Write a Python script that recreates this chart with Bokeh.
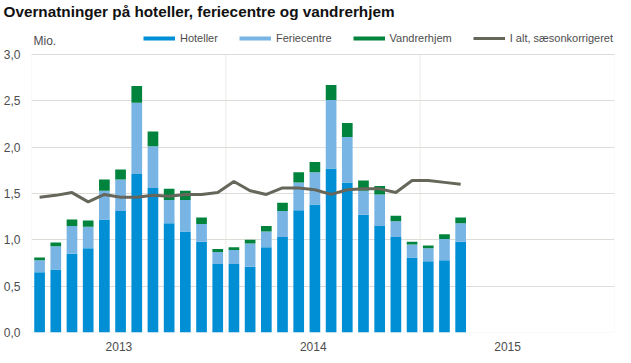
from bokeh.plotting import figure
from bokeh.models import (ColumnDataSource, Legend, LegendItem, Label, FixedTicker,
                          CustomJSTickFormatter, Range1d, BoxAnnotation)
from bokeh.embed import file_html
from bokeh.resources import INLINE

# Months: Jan 2013 .. Mar 2015 (index 0 = Jan 2013)
month_index = list(range(27))
hoteller = [0.65, 0.68, 0.85, 0.91, 1.22, 1.31, 1.71, 1.56, 1.18, 1.09, 0.98, 0.74,
            0.74, 0.71, 0.92, 1.03, 1.32, 1.38, 1.77, 1.62, 1.27, 1.15, 1.03, 0.81,
            0.77, 0.78, 0.98]
feriecentre = [0.13, 0.25, 0.30, 0.23, 0.31, 0.34, 0.77, 0.45, 0.25, 0.34, 0.19, 0.13,
               0.15, 0.25, 0.17, 0.28, 0.30, 0.35, 0.74, 0.49, 0.26, 0.34, 0.17, 0.14,
               0.14, 0.23, 0.20]
vandrerhjem = [0.03, 0.04, 0.07, 0.07, 0.12, 0.11, 0.18, 0.16, 0.12, 0.10, 0.07, 0.03,
               0.03, 0.04, 0.06, 0.09, 0.11, 0.11, 0.16, 0.15, 0.11, 0.09, 0.06, 0.03,
               0.03, 0.05, 0.06]
i_alt_saesonkorrigeret = [1.46, 1.48, 1.51, 1.41, 1.49, 1.46, 1.46, 1.48, 1.47, 1.49, 1.49, 1.51,
                          1.63, 1.53, 1.49, 1.56, 1.56, 1.54, 1.49, 1.54, 1.55, 1.55, 1.51, 1.64,
                          1.64, 1.62, 1.60]
year_labels = ["2013", "2014", "2015"]
year_tick_pos = [4.9, 16.9, 28.9]
year_edges = [-0.5, 11.5, 23.5, 35.5]
y_ticks = [0.0, 0.5, 1.0, 1.5, 2.0, 2.5, 3.0]
y_top = 3.0

series_names = ["Hoteller", "Feriecentre", "Vandrerhjem"]
series_colors = ["#008fd5", "#78b5e5", "#00843d"]
line_color = "#66665b"
text_color = "#4d4d4d"
grid_color = "#dedcd6"
FONT = "Liberation Sans"

src = ColumnDataSource(dict(x=month_index, hoteller=hoteller, feriecentre=feriecentre,
                            vandrerhjem=vandrerhjem, total=i_alt_saesonkorrigeret))

p = figure(width=623, height=355, output_backend="svg", toolbar_location=None,
           x_range=Range1d(year_edges[0], year_edges[-1]), y_range=Range1d(0, 3.367),
           min_border_left=31, min_border_top=20, min_border_right=9, min_border_bottom=23)

p.title.text = "Overnatninger på hoteller, feriecentre og vandrerhjem"
p.title.align = "left"
p.title.offset = -28
p.title.standoff = 1
p.title.text_font = FONT
p.title.text_font_size = "15.3px"
p.title.text_font_style = "bold"
p.title.text_color = "#111111"

# year boxes (plot frame with year dividers)
for a, b in zip(year_edges[:-1], year_edges[1:]):
    p.add_layout(BoxAnnotation(left=a, right=b, bottom=0, top=y_top, fill_alpha=0,
                               line_color=grid_color, line_width=1, level="underlay"))

p.vbar_stack(["hoteller", "feriecentre", "vandrerhjem"], x="x", width=0.66,
             color=series_colors, line_color=None, source=src)
total_r = p.line("x", "total", source=src, line_color=line_color, line_width=3)

# legend swatches (renderers without visible data)
nan = float("nan")
dummies = [p.line(x=[0], y=[nan], line_color=c, line_width=4) for c in series_colors]

items = [LegendItem(label=n, renderers=[r]) for n, r in zip(series_names, dummies)]
items.append(LegendItem(label="I alt, sæsonkorrigeret", renderers=[total_r]))
legend = Legend(items=items, orientation="horizontal", location=(112, 286),
                glyph_width=32, glyph_height=16, label_height=16, label_width=10,
                label_standoff=5, spacing=21, padding=0, margin=0,
                border_line_color=None, background_fill_alpha=0,
                label_text_font=FONT, label_text_font_size="11px",
                label_text_color=text_color)
p.add_layout(legend, "center")

p.add_layout(Label(x=2, y=292, x_units="screen", y_units="screen", text="Mio.",
                   text_font=FONT, text_font_size="12px", text_color=text_color,
                   text_baseline="middle"))

# axes
p.xaxis.ticker = FixedTicker(ticks=year_tick_pos)
p.xaxis.formatter = CustomJSTickFormatter(args=dict(labels=year_labels),
                                          code="return labels[Math.round((tick - 4.9) / 12)];")
p.yaxis.ticker = FixedTicker(ticks=y_ticks)
p.yaxis.formatter = CustomJSTickFormatter(code="return tick.toFixed(1).replace('.', ',');")
for ax in (p.xaxis, p.yaxis):
    ax.axis_line_color = None
    ax.major_tick_line_color = None
    ax.minor_tick_line_color = None
    ax.major_tick_out = 0
    ax.major_tick_in = 0
    ax.minor_tick_out = 0
    ax.minor_tick_in = 0
    ax.major_label_text_font = FONT
    ax.major_label_text_font_size = "12px"
    ax.major_label_text_color = text_color
p.xaxis.major_label_standoff = 9
p.yaxis.major_label_standoff = 11

p.xgrid.grid_line_color = None
p.ygrid.ticker = FixedTicker(ticks=y_ticks)
p.ygrid.grid_line_color = grid_color
p.outline_line_color = None
p.background_fill_color = "white"
p.border_fill_color = "white"

open("out.html", "w").write(file_html(p, INLINE))
